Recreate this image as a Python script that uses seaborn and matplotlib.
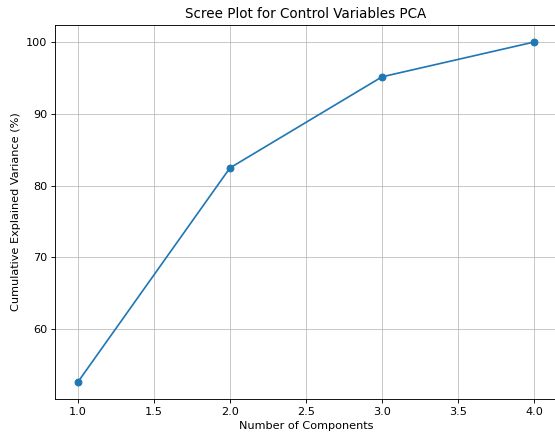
import matplotlib
matplotlib.use("Agg")
import matplotlib.pyplot as plt
import seaborn as sns
import pandas as pd

components = [1, 2, 3, 4]
cumulative_variance = [52.6, 82.45, 95.15, 100.0]

df = pd.DataFrame({"Number of Components": components,
                   "Cumulative Explained Variance (%)": cumulative_variance})

DPI = 81
fig = plt.figure(figsize=(555 / DPI, 435 / DPI), dpi=DPI)
ax = fig.add_axes([55 / 555, 36 / 435, 502 / 555, 374 / 435])

sns.lineplot(data=df, x="Number of Components", y="Cumulative Explained Variance (%)",
             ax=ax, marker="o", color="#1f77b4", markersize=6,
             markeredgecolor="#1f77b4", markeredgewidth=1, linewidth=1.5)

ax.set_title("Scree Plot for Control Variables PCA", fontsize=12)
ax.set_xlabel("Number of Components", fontsize=10)
ax.set_ylabel("Cumulative Explained Variance (%)", fontsize=10)
ax.tick_params(labelsize=10)
ax.grid(True, color="#b0b0b0", linewidth=0.8, alpha=0.75)
ax.set_axisbelow(True)
ax.set_xticks([1.0, 1.5, 2.0, 2.5, 3.0, 3.5, 4.0])
ax.set_xticklabels(["1.0", "1.5", "2.0", "2.5", "3.0", "3.5", "4.0"])
ax.set_xlim(0.85, 4.15)
ax.set_ylim(50.25, 102.37)

fig.savefig("out.png", dpi=DPI)
